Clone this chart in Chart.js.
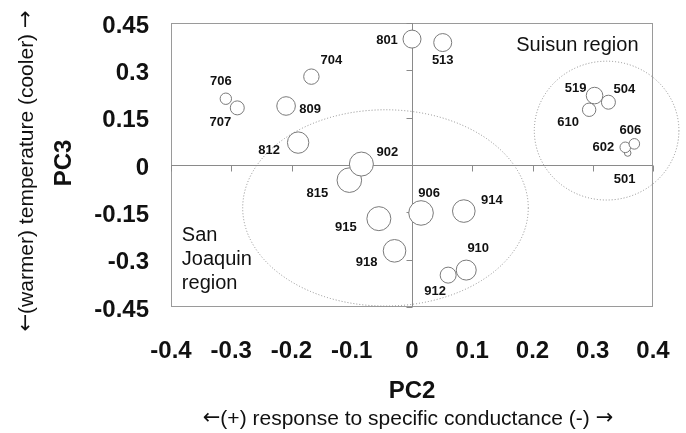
<!DOCTYPE html>
<html>
<head>
<meta charset="utf-8">
<script src="https://cdn.jsdelivr.net/npm/chart.js@4"></script>
<style>
  html, body { margin: 0; padding: 0; background: #fff; }
  #wrap { width: 686px; height: 433px; }
</style>
</head>
<body>
<div id="wrap"><canvas id="myChart" width="686" height="433"></canvas></div>
<script>
// sitios, en orden de dibujo (los de arriba tapan a los anteriores)
const siteIds = ["706", "707", "704", "809", "812", "801", "513", "815", "902", "915", "918",
    "906", "914", "912", "910", "610", "504", "519", "501", "602", "606"];
const pc2 = [-0.309, -0.29, -0.167, -0.209, -0.189, 0.0, 0.051, -0.104, -0.084, -0.055, -0.029,
    0.015, 0.086, 0.06, 0.09, 0.294, 0.326, 0.303, 0.358, 0.354, 0.369];
const pc3 = [0.21, 0.181, 0.28, 0.187, 0.071, 0.399, 0.388, -0.048, 0.003, -0.17, -0.272,
    -0.152, -0.146, -0.349, -0.333, 0.175, 0.199, 0.22, 0.038, 0.056, 0.067];
const bubbleR = [5.7, 7, 7.7, 9.3, 10.7, 9, 9, 12.3, 12, 12, 11.3,
    12.3, 11.3, 8, 10, 6.7, 7, 8.3, 3.3, 5.3, 5.3];

const xTicks = [-0.4, -0.3, -0.2, -0.1, 0, 0.1, 0.2, 0.3, 0.4];
const yTicks = [-0.45, -0.3, -0.15, 0, 0.15, 0.3, 0.45];

// regiones (elipses punteadas), en unidades de los ejes
const regionCx = [-0.044, 0.323];
const regionCy = [-0.136, 0.109];
const regionRx = [0.237, 0.12];
const regionRy = [0.311, 0.22];

// desplazamiento de cada etiqueta respecto a su burbuja (px)
const labelDx = [-5, -17, 20, 24, -29, -25, 0, -32, 26, -33, -28, 8, 28, -13, 12, -21, 16, -19, -3, -22, -4];
const labelDy = [-17, 15, -16, 3, 8, 1, 18, 13, -12, 9, 12, -20, -11, 16, -22, 13, -13, -7, 26, 0, -13];

const fuente = "'Liberation Sans', Arial, sans-serif";
const fuenteFlecha = "'DejaVu Sans', sans-serif";
const negro = "#111";

function bubbleData() {
    return siteIds.map((id, i) => {
        return { x: pc2[i], y: pc3[i], r: bubbleR[i] };
    });
}

// escribe varios trozos con fuentes distintas, centrados en (0,0)
function textoPartes(ctx, partes) {
    let total = 0;
    partes.forEach((p) => {
        ctx.font = p[1];
        total += ctx.measureText(p[0]).width;
    });
    let xx = -total / 2;
    ctx.textAlign = "left";
    partes.forEach((p) => {
        ctx.font = p[1];
        ctx.fillText(p[0], xx, 0);
        xx += ctx.measureText(p[0]).width;
    });
}

const marcoPlugin = {
    id: "marco",
    beforeDatasetsDraw(chart) {
        const { ctx, chartArea: a, scales: { x, y } } = chart;
        ctx.save();
        ctx.strokeStyle = "#9a9a9a";
        ctx.lineWidth = 1;
        ctx.strokeRect(a.left + 0.5, a.top + 0.5, a.right - a.left - 1, a.bottom - a.top - 1);
        const x0 = Math.round(x.getPixelForValue(0)) + 0.5;
        const y0 = Math.round(y.getPixelForValue(0)) + 0.5;
        ctx.strokeStyle = "#8a8a8a";
        ctx.beginPath();
        ctx.moveTo(a.left, y0);
        ctx.lineTo(a.right, y0);
        ctx.moveTo(x0, a.top);
        ctx.lineTo(x0, a.bottom);
        xTicks.forEach((v) => {
            const px = Math.round(x.getPixelForValue(v)) + 0.5;
            ctx.moveTo(px, y0);
            ctx.lineTo(px, y0 + 6);
        });
        yTicks.forEach((v) => {
            const py = Math.round(y.getPixelForValue(v)) + 0.5;
            ctx.moveTo(x0, py);
            ctx.lineTo(x0 - 6, py);
        });
        ctx.stroke();
        // elipses de region
        ctx.strokeStyle = "#8c8c8c";
        ctx.setLineDash([1, 2]);
        for (let i = 0; i < regionCx.length; i++) {
            const cx = x.getPixelForValue(regionCx[i]);
            const cy = y.getPixelForValue(regionCy[i]);
            const rx = Math.abs(x.getPixelForValue(regionCx[i] + regionRx[i]) - cx);
            const ry = Math.abs(y.getPixelForValue(regionCy[i] + regionRy[i]) - cy);
            ctx.beginPath();
            ctx.ellipse(cx, cy, rx, ry, 0, 0, Math.PI * 2);
            ctx.stroke();
        }
        ctx.restore();
    },
    afterDatasetsDraw(chart) {
        const { ctx, scales: { x, y } } = chart;
        const meta = chart.getDatasetMeta(0);
        ctx.save();
        ctx.fillStyle = negro;
        ctx.textAlign = "center";
        ctx.textBaseline = "middle";
        ctx.font = "bold 13px " + fuente;
        meta.data.forEach((p, i) => {
            ctx.fillText(siteIds[i], p.x + labelDx[i], p.y + labelDy[i]);
        });
        // nombres de las regiones
        ctx.font = "20px " + fuente;
        ctx.textAlign = "left";
        ctx.textBaseline = "alphabetic";
        ctx.fillText("Suisun region", x.getPixelForValue(0.173), y.getPixelForValue(0.362));
        const sj = ["San", "Joaquin", "region"];
        const sx = x.getPixelForValue(-0.382);
        const sy = y.getPixelForValue(-0.24);
        sj.forEach((t, k) => {
            ctx.fillText(t, sx, sy + k * 24.3);
        });
        ctx.restore();
    },
    afterDraw(chart) {
        const { ctx } = chart;
        ctx.save();
        ctx.fillStyle = negro;
        ctx.textAlign = "center";
        ctx.textBaseline = "middle";
        ctx.font = "bold 24px " + fuente;
        ctx.fillText("PC2", 412, 391);
        ctx.translate(408, 419);
        textoPartes(ctx, [
            ["\u2190", "21px " + fuenteFlecha],
            ["(+) response to specific conductance (-) ", "21px " + fuente],
            ["\u2192", "21px " + fuenteFlecha]
        ]);
        ctx.restore();
        ctx.save();
        ctx.fillStyle = negro;
        ctx.textAlign = "center";
        ctx.textBaseline = "middle";
        ctx.translate(64, 163);
        ctx.rotate(-Math.PI / 2);
        ctx.font = "bold 24px " + fuente;
        ctx.fillText("PC3", 0, 0);
        ctx.restore();
        ctx.save();
        ctx.fillStyle = negro;
        ctx.textBaseline = "middle";
        ctx.translate(27, 171);
        ctx.rotate(-Math.PI / 2);
        textoPartes(ctx, [
            ["\u2190", "21px " + fuenteFlecha],
            ["(warmer) temperature (cooler) ", "21px " + fuente],
            ["\u2192", "21px " + fuenteFlecha]
        ]);
        ctx.restore();
    }
};

function tickFont() {
    return { family: fuente, size: 24, weight: "bold" };
}

function cargaGrafico() {
    const canvas = document.getElementById("myChart");
    const config = {
        type: "bubble",
        data: {
            datasets: [
                {
                    label: "sites",
                    data: bubbleData(),
                    backgroundColor: "#ffffff",
                    borderColor: "#7a7a7a",
                    borderWidth: 1,
                    hoverRadius: 0
                }
            ]
        },
        options: {
            responsive: false,
            animation: false,
            events: [],
            layout: { padding: { top: 23, right: 33, left: 0, bottom: 0 } },
            plugins: {
                legend: { display: false },
                tooltip: { enabled: false }
            },
            scales: {
                x: {
                    type: "linear",
                    min: -0.4,
                    max: 0.4,
                    grid: { display: false, drawTicks: false },
                    border: { display: false },
                    afterBuildTicks: (s) => { s.ticks = xTicks.map((v) => ({ value: v })); },
                    afterFit: (s) => {
                        s.height = 126;
                        s.paddingLeft = 0;
                        s.paddingRight = 0;
                    },
                    ticks: {
                        padding: 30,
                        color: negro,
                        font: tickFont(),
                        maxRotation: 0,
                        autoSkip: false,
                        callback: (v) => String(v)
                    }
                },
                y: {
                    type: "linear",
                    min: -0.45,
                    max: 0.45,
                    grid: { display: false, drawTicks: false },
                    border: { display: false },
                    afterBuildTicks: (s) => { s.ticks = yTicks.map((v) => ({ value: v })); },
                    afterFit: (s) => {
                        s.width = 171;
                        s.paddingTop = 0;
                        s.paddingBottom = 0;
                    },
                    ticks: {
                        padding: 22,
                        labelOffset: 3,
                        color: negro,
                        font: tickFont(),
                        autoSkip: false,
                        callback: (v) => String(v)
                    }
                }
            }
        },
        plugins: [marcoPlugin]
    };
    return new Chart(canvas, config);
}
cargaGrafico();
</script>
</body>
</html>
